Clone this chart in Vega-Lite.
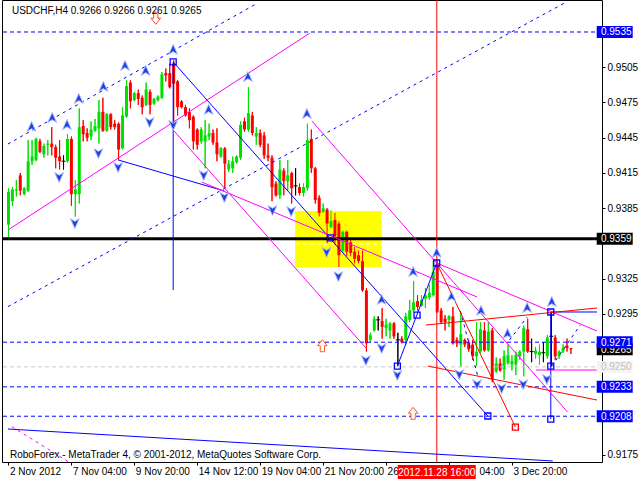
{
  "$schema": "https://vega.github.io/schema/vega-lite/v6.json",
  "width": 600,
  "height": 462,
  "autosize": {"type": "none"},
  "padding": {"left": 2, "top": 0, "right": 38, "bottom": 18},
  "background": "white",
  "config": {
    "view": {"stroke": "#000000", "strokeWidth": 1},
    "axis": {"labelFont": "Liberation Sans", "labelFontSize": 10, "labelColor": "#000000", "tickColor": "#000000", "domain": false, "grid": false, "titleOpacity": 0, "titleFontSize": 1}
  },
  "datasets": {
    "candles": [
      {"i":0,"o":0.9371,"h":0.9402,"l":0.9360,"c":0.9399},
      {"i":1,"o":0.9391,"h":0.9403,"l":0.9387,"c":0.9401},
      {"i":2,"o":0.9400,"h":0.9409,"l":0.9395,"c":0.9401},
      {"i":3,"o":0.9413,"h":0.9415,"l":0.9396,"c":0.9400},
      {"i":4,"o":0.9397,"h":0.9403,"l":0.9396,"c":0.9402},
      {"i":5,"o":0.9400,"h":0.9443,"l":0.9399,"c":0.9425},
      {"i":6,"o":0.9425,"h":0.9443,"l":0.9422,"c":0.9429},
      {"i":7,"o":0.9426,"h":0.9445,"l":0.9425,"c":0.9444},
      {"i":8,"o":0.9442,"h":0.9444,"l":0.9432,"c":0.9433},
      {"i":9,"o":0.9431,"h":0.9440,"l":0.9428,"c":0.9438},
      {"i":10,"o":0.9439,"h":0.9443,"l":0.9430,"c":0.9440},
      {"i":11,"o":0.9440,"h":0.9454,"l":0.9430,"c":0.9437},
      {"i":12,"o":0.9437,"h":0.9439,"l":0.9419,"c":0.9428},
      {"i":13,"o":0.9429,"h":0.9443,"l":0.9418,"c":0.9425},
      {"i":14,"o":0.9425,"h":0.9430,"l":0.9418,"c":0.9425},
      {"i":15,"o":0.9425,"h":0.9448,"l":0.9424,"c":0.9444},
      {"i":16,"o":0.9444,"h":0.9446,"l":0.9387,"c":0.9397},
      {"i":17,"o":0.9397,"h":0.9409,"l":0.9378,"c":0.9401},
      {"i":18,"o":0.9397,"h":0.9470,"l":0.9389,"c":0.9454},
      {"i":19,"o":0.9455,"h":0.9460,"l":0.9442,"c":0.9448},
      {"i":20,"o":0.9449,"h":0.9453,"l":0.9442,"c":0.9445},
      {"i":21,"o":0.9446,"h":0.9459,"l":0.9443,"c":0.9452},
      {"i":22,"o":0.9451,"h":0.9461,"l":0.9450,"c":0.9455},
      {"i":23,"o":0.9453,"h":0.9477,"l":0.9440,"c":0.9467},
      {"i":24,"o":0.9467,"h":0.9479,"l":0.9450,"c":0.9451},
      {"i":25,"o":0.9451,"h":0.9466,"l":0.9450,"c":0.9465},
      {"i":26,"o":0.9465,"h":0.9466,"l":0.9452,"c":0.9454},
      {"i":27,"o":0.9457,"h":0.9460,"l":0.9452,"c":0.9454},
      {"i":28,"o":0.9457,"h":0.9458,"l":0.9426,"c":0.9435},
      {"i":29,"o":0.9436,"h":0.9471,"l":0.9435,"c":0.9464},
      {"i":30,"o":0.9463,"h":0.9494,"l":0.9462,"c":0.9489},
      {"i":31,"o":0.9492,"h":0.9494,"l":0.9470,"c":0.9476},
      {"i":32,"o":0.9477,"h":0.9484,"l":0.9476,"c":0.9483},
      {"i":33,"o":0.9483,"h":0.9486,"l":0.9473,"c":0.9478},
      {"i":34,"o":0.9479,"h":0.9481,"l":0.9465,"c":0.9471},
      {"i":35,"o":0.9473,"h":0.9492,"l":0.9472,"c":0.9486},
      {"i":36,"o":0.9484,"h":0.9486,"l":0.9465,"c":0.9473},
      {"i":37,"o":0.9474,"h":0.9479,"l":0.9473,"c":0.9478},
      {"i":38,"o":0.9477,"h":0.9481,"l":0.9476,"c":0.9480},
      {"i":39,"o":0.9479,"h":0.9501,"l":0.9478,"c":0.9499},
      {"i":40,"o":0.9500,"h":0.9504,"l":0.9493,"c":0.9498},
      {"i":41,"o":0.9500,"h":0.9508,"l":0.9487,"c":0.9488},
      {"i":42,"o":0.9508,"h":0.9511,"l":0.9457,"c":0.9491},
      {"i":43,"o":0.9493,"h":0.9494,"l":0.9464,"c":0.9471},
      {"i":44,"o":0.9476,"h":0.9477,"l":0.9470,"c":0.9471},
      {"i":45,"o":0.9471,"h":0.9473,"l":0.9463,"c":0.9464},
      {"i":46,"o":0.9467,"h":0.9470,"l":0.9453,"c":0.9460},
      {"i":47,"o":0.9463,"h":0.9464,"l":0.9435,"c":0.9442},
      {"i":48,"o":0.9452,"h":0.9453,"l":0.9435,"c":0.9439},
      {"i":49,"o":0.9442,"h":0.9454,"l":0.9440,"c":0.9452},
      {"i":50,"o":0.9442,"h":0.9460,"l":0.9419,"c":0.9447},
      {"i":51,"o":0.9446,"h":0.9457,"l":0.9443,"c":0.9449},
      {"i":52,"o":0.9449,"h":0.9452,"l":0.9439,"c":0.9441},
      {"i":53,"o":0.9441,"h":0.9453,"l":0.9425,"c":0.9431},
      {"i":54,"o":0.9429,"h":0.9437,"l":0.9428,"c":0.9436},
      {"i":55,"o":0.9436,"h":0.9437,"l":0.9402,"c":0.9423},
      {"i":56,"o":0.9418,"h":0.9426,"l":0.9416,"c":0.9423},
      {"i":57,"o":0.9419,"h":0.9429,"l":0.9415,"c":0.9425},
      {"i":58,"o":0.9424,"h":0.9430,"l":0.9423,"c":0.9429},
      {"i":59,"o":0.9428,"h":0.9459,"l":0.9426,"c":0.9456},
      {"i":60,"o":0.9459,"h":0.9462,"l":0.9450,"c":0.9452},
      {"i":61,"o":0.9452,"h":0.9488,"l":0.9450,"c":0.9466},
      {"i":62,"o":0.9464,"h":0.9467,"l":0.9447,"c":0.9449},
      {"i":63,"o":0.9446,"h":0.9454,"l":0.9439,"c":0.9449},
      {"i":64,"o":0.9449,"h":0.9452,"l":0.9437,"c":0.9439},
      {"i":65,"o":0.9447,"h":0.9450,"l":0.9427,"c":0.9430},
      {"i":66,"o":0.9430,"h":0.9440,"l":0.9425,"c":0.9428},
      {"i":67,"o":0.9428,"h":0.9430,"l":0.9391,"c":0.9403},
      {"i":68,"o":0.9406,"h":0.9408,"l":0.9395,"c":0.9396},
      {"i":69,"o":0.9396,"h":0.9426,"l":0.9393,"c":0.9418},
      {"i":70,"o":0.9417,"h":0.9419,"l":0.9396,"c":0.9408},
      {"i":71,"o":0.9408,"h":0.9426,"l":0.9400,"c":0.9413},
      {"i":72,"o":0.9415,"h":0.9416,"l":0.9389,"c":0.9402},
      {"i":73,"o":0.9404,"h":0.9419,"l":0.9396,"c":0.9404},
      {"i":74,"o":0.9403,"h":0.9406,"l":0.9396,"c":0.9398},
      {"i":75,"o":0.9398,"h":0.9406,"l":0.9395,"c":0.9403},
      {"i":76,"o":0.9402,"h":0.9457,"l":0.9400,"c":0.9443},
      {"i":77,"o":0.9444,"h":0.9452,"l":0.9415,"c":0.9419},
      {"i":78,"o":0.9419,"h":0.9420,"l":0.9389,"c":0.9392},
      {"i":79,"o":0.9394,"h":0.9396,"l":0.9378,"c":0.9381},
      {"i":80,"o":0.9382,"h":0.9389,"l":0.9381,"c":0.9385},
      {"i":81,"o":0.9384,"h":0.9385,"l":0.9355,"c":0.9372},
      {"i":82,"o":0.9369,"h":0.9383,"l":0.9368,"c":0.9374},
      {"i":83,"o":0.9375,"h":0.9381,"l":0.9354,"c":0.9361},
      {"i":84,"o":0.9372,"h":0.9374,"l":0.9335,"c":0.9345},
      {"i":85,"o":0.9349,"h":0.9366,"l":0.9347,"c":0.9365},
      {"i":86,"o":0.9365,"h":0.9366,"l":0.9344,"c":0.9348},
      {"i":87,"o":0.9356,"h":0.9358,"l":0.9344,"c":0.9347},
      {"i":88,"o":0.9348,"h":0.9352,"l":0.9338,"c":0.9342},
      {"i":89,"o":0.9345,"h":0.9349,"l":0.9338,"c":0.9340},
      {"i":90,"o":0.9340,"h":0.9349,"l":0.9314,"c":0.9315},
      {"i":91,"o":0.9315,"h":0.9317,"l":0.9263,"c":0.9270},
      {"i":92,"o":0.9273,"h":0.9279,"l":0.9271,"c":0.9277},
      {"i":93,"o":0.9281,"h":0.9293,"l":0.9280,"c":0.9291},
      {"i":94,"o":0.9290,"h":0.9293,"l":0.9281,"c":0.9290},
      {"i":95,"o":0.9289,"h":0.9300,"l":0.9274,"c":0.9284},
      {"i":96,"o":0.9283,"h":0.9291,"l":0.9276,"c":0.9286},
      {"i":97,"o":0.9281,"h":0.9288,"l":0.9274,"c":0.9287},
      {"i":98,"o":0.9287,"h":0.9288,"l":0.9274,"c":0.9276},
      {"i":99,"o":0.9273,"h":0.9279,"l":0.9251,"c":0.9273},
      {"i":100,"o":0.9274,"h":0.9276,"l":0.9270,"c":0.9271},
      {"i":101,"o":0.9273,"h":0.9296,"l":0.9269,"c":0.9293},
      {"i":102,"o":0.9290,"h":0.9307,"l":0.9288,"c":0.9298},
      {"i":103,"o":0.9298,"h":0.9323,"l":0.9297,"c":0.9305},
      {"i":104,"o":0.9306,"h":0.9311,"l":0.9298,"c":0.9301},
      {"i":105,"o":0.9302,"h":0.9311,"l":0.9301,"c":0.9307},
      {"i":106,"o":0.9308,"h":0.9317,"l":0.9300,"c":0.9311},
      {"i":107,"o":0.9309,"h":0.9320,"l":0.9307,"c":0.9313},
      {"i":108,"o":0.9311,"h":0.9340,"l":0.9310,"c":0.9331},
      {"i":109,"o":0.9337,"h":0.9340,"l":0.9296,"c":0.9297},
      {"i":110,"o":0.9298,"h":0.9300,"l":0.9287,"c":0.9288},
      {"i":111,"o":0.9291,"h":0.9294,"l":0.9281,"c":0.9288},
      {"i":112,"o":0.9290,"h":0.9294,"l":0.9284,"c":0.9293},
      {"i":113,"o":0.9293,"h":0.9301,"l":0.9269,"c":0.9270},
      {"i":114,"o":0.9273,"h":0.9275,"l":0.9267,"c":0.9270},
      {"i":115,"o":0.9269,"h":0.9296,"l":0.9250,"c":0.9278},
      {"i":116,"o":0.9273,"h":0.9274,"l":0.9267,"c":0.9269},
      {"i":117,"o":0.9271,"h":0.9273,"l":0.9263,"c":0.9265},
      {"i":118,"o":0.9269,"h":0.9273,"l":0.9256,"c":0.9259},
      {"i":119,"o":0.9259,"h":0.9288,"l":0.9251,"c":0.9263},
      {"i":120,"o":0.9263,"h":0.9288,"l":0.9262,"c":0.9282},
      {"i":121,"o":0.9281,"h":0.9288,"l":0.9263,"c":0.9264},
      {"i":122,"o":0.9264,"h":0.9288,"l":0.9263,"c":0.9280},
      {"i":123,"o":0.9281,"h":0.9283,"l":0.9237,"c":0.9239},
      {"i":124,"o":0.9246,"h":0.9258,"l":0.9245,"c":0.9253},
      {"i":125,"o":0.9253,"h":0.9257,"l":0.9246,"c":0.9247},
      {"i":126,"o":0.9248,"h":0.9264,"l":0.9239,"c":0.9259},
      {"i":127,"o":0.9253,"h":0.9269,"l":0.9252,"c":0.9260},
      {"i":128,"o":0.9252,"h":0.9260,"l":0.9247,"c":0.9255},
      {"i":129,"o":0.9252,"h":0.9263,"l":0.9243,"c":0.9260},
      {"i":130,"o":0.9259,"h":0.9264,"l":0.9256,"c":0.9263},
      {"i":131,"o":0.9263,"h":0.9285,"l":0.9242,"c":0.9283},
      {"i":132,"o":0.9282,"h":0.9291,"l":0.9262,"c":0.9263},
      {"i":133,"o":0.9263,"h":0.9274,"l":0.9254,"c":0.9263},
      {"i":134,"o":0.9261,"h":0.9267,"l":0.9257,"c":0.9264},
      {"i":135,"o":0.9260,"h":0.9269,"l":0.9252,"c":0.9263},
      {"i":136,"o":0.9262,"h":0.9271,"l":0.9254,"c":0.9262},
      {"i":137,"o":0.9259,"h":0.9277,"l":0.9257,"c":0.9275},
      {"i":138,"o":0.9276,"h":0.9296,"l":0.9250,"c":0.9276},
      {"i":139,"o":0.9275,"h":0.9277,"l":0.9256,"c":0.9259},
      {"i":140,"o":0.9259,"h":0.9264,"l":0.9257,"c":0.9263},
      {"i":141,"o":0.9263,"h":0.9269,"l":0.9262,"c":0.9266},
      {"i":142,"o":0.9268,"h":0.9274,"l":0.9263,"c":0.9266},
      {"i":143,"o":0.9266,"h":0.9266,"l":0.9261,"c":0.9265}
    ],
    "lines": [
      {"id":"L1","k":"bd","i":-0.125,"p":0.94397},{"id":"L1","k":"bd","i":63.375,"p":0.95597},
      {"id":"L2","k":"bd","i":-0.125,"p":0.93013},{"id":"L2","k":"bd","i":141.375,"p":0.95597},
      {"id":"D1","k":"bd","i":114.875,"p":0.92976},{"id":"D1","k":"bd","i":119.375,"p":0.92414},
      {"id":"D2","k":"bd","i":127.375,"p":0.92729},{"id":"D2","k":"bd","i":131.875,"p":0.92924},
      {"id":"D3","k":"bd","i":138.125,"p":0.92507},{"id":"D3","k":"bd","i":145.375,"p":0.92856},
      {"id":"L3","k":"m","i":-0.125,"p":0.93665},{"id":"L3","k":"m","i":76.625,"p":0.95341},
      {"id":"L6","k":"m","i":41.875,"p":0.94516},{"id":"L6","k":"m","i":90.875,"p":0.92661},
      {"id":"L7","k":"m","i":49.125,"p":0.94073},{"id":"L7","k":"m","i":119.125,"p":0.93095},
      {"id":"L8","k":"m","i":77.125,"p":0.94593},{"id":"L8","k":"m","i":142.125,"p":0.92116},
      {"id":"L9","k":"m","i":108.875,"p":0.93384},{"id":"L9","k":"m","i":149.625,"p":0.92805},
      {"id":"L10","k":"m","i":134.125,"p":0.92473},{"id":"L10","k":"m","i":149.625,"p":0.92473},
      {"id":"L11","k":"md","i":0.875,"p":0.91991},{"id":"L11","k":"md","i":15.375,"p":0.91690},
      {"id":"R1","k":"r","i":108.875,"p":0.93384},{"id":"R1","k":"r","i":128.875,"p":0.91988},
      {"id":"R2","k":"r","i":106.125,"p":0.92856},{"id":"R2","k":"r","i":149.625,"p":0.93001},
      {"id":"R3","k":"r","i":106.625,"p":0.92507},{"id":"R3","k":"r","i":149.625,"p":0.92218},
      {"id":"L4","k":"b","i":41.875,"p":0.95095},{"id":"L4","k":"b","i":121.875,"p":0.92082},
      {"id":"L5","k":"b","i":27.875,"p":0.94261},{"id":"L5","k":"b","i":54.875,"p":0.93997},
      {"id":"B1","k":"b","i":98.875,"p":0.92507},{"id":"B1","k":"b","i":108.875,"p":0.93384},
      {"id":"B5","k":"b","i":137.875,"p":0.92967},{"id":"B5","k":"b","i":149.625,"p":0.92967},
      {"id":"B6","k":"b","i":137.875,"p":0.92967},{"id":"B6","k":"b","i":137.875,"p":0.92056},
      {"id":"B7","k":"b","i":-0.125,"p":0.91971},{"id":"B7","k":"b","i":138.375,"p":0.91699},
      {"id":"B8","k":"b","i":41.875,"p":0.95095},{"id":"B8","k":"b","i":41.875,"p":0.93154},
      {"id":"W1","k":"wd","i":73.125,"p":0.93546},{"id":"W1","k":"wd","i":94.875,"p":0.93546}
    ],
    "hlines": [
      {"p":0.9535,"k":"bd"},{"p":0.9271,"k":"bd"},{"p":0.9233,"k":"bd"},{"p":0.9208,"k":"bd"},
      {"p":0.9250,"k":"gd"},{"p":0.9359,"k":"k"}
    ],
    "squares": [
      {"i":41.875,"p":0.95095,"k":"b"},{"i":81.875,"p":0.93597,"k":"b"},{"i":98.875,"p":0.92507,"k":"b"},
      {"i":103.875,"p":0.92941,"k":"b"},{"i":108.875,"p":0.93384,"k":"b"},{"i":121.875,"p":0.92082,"k":"b"},
      {"i":137.875,"p":0.92967,"k":"b"},{"i":137.875,"p":0.92507,"k":"b"},{"i":137.875,"p":0.92056,"k":"b"},
      {"i":128.875,"p":0.91988,"k":"r"}
    ],
    "arrows": [
      {"i":5.875,"p":0.94541,"d":"up"},{"i":11.125,"p":0.94618,"d":"up"},{"i":14.875,"p":0.94558,"d":"up"},
      {"i":17.875,"p":0.94780,"d":"up"},{"i":24.125,"p":0.94882,"d":"up"},{"i":29.625,"p":0.95061,"d":"up"},
      {"i":34.875,"p":0.95018,"d":"up"},{"i":41.875,"p":0.95197,"d":"up"},{"i":50.875,"p":0.94686,"d":"up"},
      {"i":60.875,"p":0.94967,"d":"up"},{"i":75.875,"p":0.94652,"d":"up"},{"i":94.875,"p":0.93069,"d":"up"},
      {"i":102.875,"p":0.93307,"d":"up"},{"i":108.875,"p":0.93469,"d":"up"},{"i":112.625,"p":0.93095,"d":"up"},
      {"i":120.125,"p":0.92976,"d":"up"},{"i":126.875,"p":0.92780,"d":"up"},{"i":131.875,"p":0.93001,"d":"up"},
      {"i":138.125,"p":0.93052,"d":"up"},
      {"i":12.875,"p":0.94116,"d":"down"},{"i":16.875,"p":0.93724,"d":"down"},{"i":22.875,"p":0.94320,"d":"down"},
      {"i":27.875,"p":0.94201,"d":"down"},{"i":35.875,"p":0.94584,"d":"down"},{"i":41.875,"p":0.94559,"d":"down"},
      {"i":49.625,"p":0.94133,"d":"down"},{"i":54.875,"p":0.93946,"d":"down"},{"i":67.125,"p":0.93835,"d":"down"},
      {"i":71.875,"p":0.93826,"d":"down"},{"i":80.875,"p":0.93478,"d":"down"},{"i":83.875,"p":0.93273,"d":"down"},
      {"i":90.875,"p":0.92558,"d":"down"},{"i":94.875,"p":0.92661,"d":"down"},{"i":98.875,"p":0.92431,"d":"down"},
      {"i":114.625,"p":0.92439,"d":"down"},{"i":119.125,"p":0.92354,"d":"down"},{"i":125.375,"p":0.92320,"d":"down"},
      {"i":130.875,"p":0.92354,"d":"down"},{"i":136.875,"p":0.92397,"d":"down"}
    ],
    "hollow": [
      {"i":37.45,"p":0.95467,"d":"down"},{"i":79.8,"p":0.92680,"d":"up"},{"i":102.875,"p":0.92105,"d":"up"}
    ],
    "tags": [
      {"p":0.9535,"t":"0.9535","k":"blue"},{"p":0.9359,"t":"0.9359","k":"black"},
      {"p":0.9265,"t":"0.9265","k":"black"},{"p":0.9271,"t":"0.9271","k":"blue"},
      {"p":0.9250,"t":"0.9250","k":"gray"},{"p":0.9233,"t":"0.9233","k":"blue"},
      {"p":0.9208,"t":"0.9208","k":"blue"}
    ]
  },
  "layer": [
    {
      "data": {"name":"candles"},
      "mark": {"type":"rule","strokeWidth":1},
      "encoding": {
        "x": {"field":"i","type":"quantitative","title":null,"scale":{"domain":[-0.375,149.625],"nice":false,"zero":false},
              "axis":{"orient":"bottom","title":null,"values":[0,16,32,48,64,80,96,112,128],"tickCount":20,"labelAlign":"left",
                "labelOffset":{"condition":{"test":"datum.value==112","value":30},"value":1},
                "tickSize":3,"labelPadding":1,"labelFlush":false,"labelOverlap":false,"labelBound":false,
                "labelExpr":"datum.value==0?'2 Nov 2012':datum.value==16?'7 Nov 04:00':datum.value==32?'9 Nov 20:00':datum.value==48?'14 Nov 12:00':datum.value==64?'19 Nov 04:00':datum.value==80?'21 Nov 20:00':datum.value==96?'26':datum.value==112?'04:00':'3 Dec 20:00'"}},
        "y": {"field":"l","type":"quantitative","title":null,"scale":{"domain":[0.916904,0.956223],"nice":false,"zero":false},
              "axis":{"orient":"right","title":null,"values":[0.9175,0.9295,0.9325,0.9385,0.9415,0.9445,0.9475,0.9505],"tickCount":30,"format":".4f","tickSize":3,"labelPadding":2,"labelBaseline":"middle","labelOverlap":false,"labelBound":false,"labelFlush":false}},
        "y2": {"field":"h"},
        "color": {"condition":[{"test":"datum.o==datum.c","value":"#000000"},{"test":"datum.c>datum.o","value":"#00e000"}],"value":"#ff0000"}
      }
    },
    {
      "data": {"values": [{"i1":72.875,"i2":94.875,"p1":0.93827,"p2":0.93350}]},
      "mark": {"type":"rect","color":"#ffff00"},
      "encoding": {
        "x": {"field":"i1","type":"quantitative"},
        "x2": {"field":"i2"},
        "y": {"field":"p1","type":"quantitative"},
        "y2": {"field":"p2"}
      }
    },
    {
      "data": {"name":"lines"},
      "transform": [{"filter":"datum.k=='wd'"}],
      "mark": {"type":"line","color":"#ffffff","strokeWidth":1,"strokeDash":[4,3]},
      "encoding": {
        "x": {"field":"i","type":"quantitative"},
        "y": {"field":"p","type":"quantitative"},
        "detail": {"field":"id"}
      }
    },
    {
      "data": {"name":"candles"},
      "mark": {"type":"rule","strokeWidth":1},
      "encoding": {
        "x": {"field":"i","type":"quantitative"},
        "y": {"field":"l","type":"quantitative"},
        "y2": {"field":"h"},
        "color": {"condition":[{"test":"datum.o==datum.c","value":"#000000"},{"test":"datum.c>datum.o","value":"#00e000"}],"value":"#ff0000"}
      }
    },
    {
      "data": {"name":"candles"},
      "transform": [{"filter":"datum.o!=datum.c"}],
      "mark": {"type":"bar","width":3},
      "encoding": {
        "x": {"field":"i","type":"quantitative"},
        "y": {"field":"o","type":"quantitative"},
        "y2": {"field":"c"},
        "color": {"condition":{"test":"datum.c>datum.o","value":"#00e000"},"value":"#ff0000"}
      }
    },
    {
      "data": {"name":"candles"},
      "transform": [{"filter":"datum.o==datum.c"}],
      "mark": {"type":"point","shape":"M-1,0L1,0","size":16,"filled":false,"stroke":"#000000","strokeWidth":1,"opacity":1},
      "encoding": {
        "x": {"field":"i","type":"quantitative"},
        "y": {"field":"o","type":"quantitative"}
      }
    },
    {
      "data": {"name":"hlines"},
      "transform": [{"filter":"datum.k=='bd'"}],
      "mark": {"type":"rule","color":"#0000ff","strokeWidth":1,"strokeDash":[4,3]},
      "encoding": {"y": {"field":"p","type":"quantitative"}}
    },
    {
      "data": {"name":"hlines"},
      "transform": [{"filter":"datum.k=='gd'"}],
      "mark": {"type":"rule","color":"#c8c8c8","strokeWidth":1,"strokeDash":[4,3]},
      "encoding": {"y": {"field":"p","type":"quantitative"}}
    },
    {
      "data": {"name":"hlines"},
      "transform": [{"filter":"datum.k=='k'"}],
      "mark": {"type":"rule","color":"#000000","strokeWidth":3},
      "encoding": {"y": {"field":"p","type":"quantitative"}}
    },
    {
      "data": {"values":[{"t":"2012.11.28 16:00"}]},
      "mark": {"type":"rule","color":"#ff0000","strokeWidth":1},
      "encoding": {"x": {"datum":108.9,"type":"quantitative"}}
    },
    {
      "data": {"name":"lines"},
      "transform": [{"filter":"datum.k=='bd'"}],
      "mark": {"type":"line","color":"#0000ff","strokeWidth":1,"strokeDash":[3,4],"clip":true},
      "encoding": {
        "x": {"field":"i","type":"quantitative"},
        "y": {"field":"p","type":"quantitative"},
        "detail": {"field":"id"}
      }
    },
    {
      "data": {"name":"lines"},
      "transform": [{"filter":"datum.k=='b'"}],
      "mark": {"type":"line","color":"#0000ff","strokeWidth":1,"clip":true},
      "encoding": {
        "x": {"field":"i","type":"quantitative"},
        "y": {"field":"p","type":"quantitative"},
        "detail": {"field":"id"}
      }
    },
    {
      "data": {"name":"lines"},
      "transform": [{"filter":"datum.k=='m'"}],
      "mark": {"type":"line","color":"#ff00ff","strokeWidth":1,"clip":true},
      "encoding": {
        "x": {"field":"i","type":"quantitative"},
        "y": {"field":"p","type":"quantitative"},
        "detail": {"field":"id"}
      }
    },
    {
      "data": {"name":"lines"},
      "transform": [{"filter":"datum.k=='md'"}],
      "mark": {"type":"line","color":"#ff00ff","strokeWidth":1,"strokeDash":[3,4],"clip":true},
      "encoding": {
        "x": {"field":"i","type":"quantitative"},
        "y": {"field":"p","type":"quantitative"},
        "detail": {"field":"id"}
      }
    },
    {
      "data": {"name":"lines"},
      "transform": [{"filter":"datum.k=='r'"}],
      "mark": {"type":"line","color":"#ff0000","strokeWidth":1,"clip":true},
      "encoding": {
        "x": {"field":"i","type":"quantitative"},
        "y": {"field":"p","type":"quantitative"},
        "detail": {"field":"id"}
      }
    },
    {
      "data": {"name":"arrows"},
      "transform": [{"filter":"datum.d=='up'"}],
      "mark": {"type":"point","shape":"M0,-1L0.8,0.8L0,0.3L-0.8,0.8Z","size":120,"filled":true,"fill":"#2040e0","stroke":"#a8b8ff","strokeWidth":1,"opacity":1},
      "encoding": {
        "x": {"field":"i","type":"quantitative"},
        "y": {"field":"p","type":"quantitative"}
      }
    },
    {
      "data": {"name":"arrows"},
      "transform": [{"filter":"datum.d=='down'"}],
      "mark": {"type":"point","shape":"M0,1L0.8,-0.8L0,-0.3L-0.8,-0.8Z","size":120,"filled":true,"fill":"#2040e0","stroke":"#a8b8ff","strokeWidth":1,"opacity":1},
      "encoding": {
        "x": {"field":"i","type":"quantitative"},
        "y": {"field":"p","type":"quantitative"}
      }
    },
    {
      "data": {"name":"hollow"},
      "transform": [{"filter":"datum.d=='up'"}],
      "mark": {"type":"point","shape":"M0,-1L0.8,0L0.35,0L0.35,1L-0.35,1L-0.35,0L-0.8,0Z","size":144,"filled":true,"fill":"#ffffff","stroke":"#ff5a1e","strokeWidth":1,"opacity":1},
      "encoding": {
        "x": {"field":"i","type":"quantitative"},
        "y": {"field":"p","type":"quantitative"}
      }
    },
    {
      "data": {"name":"hollow"},
      "transform": [{"filter":"datum.d=='down'"}],
      "mark": {"type":"point","shape":"M0,1L0.8,0L0.35,0L0.35,-1L-0.35,-1L-0.35,0L-0.8,0Z","size":144,"filled":true,"fill":"#ffffff","stroke":"#ff4a1e","strokeWidth":1,"opacity":1},
      "encoding": {
        "x": {"field":"i","type":"quantitative"},
        "y": {"field":"p","type":"quantitative"}
      }
    },
    {
      "data": {"name":"squares"},
      "transform": [{"filter":"datum.k=='b'"}],
      "mark": {"type":"point","shape":"square","size":36,"filled":false,"stroke":"#0000ff","strokeWidth":1.3,"opacity":1},
      "encoding": {
        "x": {"field":"i","type":"quantitative"},
        "y": {"field":"p","type":"quantitative"}
      }
    },
    {
      "data": {"name":"squares"},
      "transform": [{"filter":"datum.k=='r'"}],
      "mark": {"type":"point","shape":"square","size":36,"filled":false,"stroke":"#ff0000","strokeWidth":1.3,"opacity":1},
      "encoding": {
        "x": {"field":"i","type":"quantitative"},
        "y": {"field":"p","type":"quantitative"}
      }
    },
    {
      "data": {"name":"tags"},
      "transform": [{"filter":"datum.k=='black'"}],
      "layer": [
        {"mark": {"type":"point","shape":"M-1,-0.333L1,-0.333L1,0.333L-1,0.333Z","size":1296,"filled":true,"fill":"#000000","strokeWidth":0,"opacity":1,"clip":false},
         "encoding": {"x": {"datum":154.125,"type":"quantitative"},"y": {"field":"p","type":"quantitative"}}},
        {"mark": {"type":"text","align":"left","baseline":"middle","font":"Liberation Sans","fontSize":10,"color":"#ffffff","dy":0.5,"clip":false},
         "encoding": {"x": {"datum":150.625,"type":"quantitative"},"y": {"field":"p","type":"quantitative"},"text": {"field":"t"}}}
      ]
    },
    {
      "data": {"name":"tags"},
      "transform": [{"filter":"datum.k=='gray'"}],
      "layer": [
        {"mark": {"type":"point","shape":"M-1,-0.333L1,-0.333L1,0.333L-1,0.333Z","size":1296,"filled":true,"fill":"#f4f4f4","strokeWidth":0,"opacity":1,"clip":false},
         "encoding": {"x": {"datum":154.125,"type":"quantitative"},"y": {"field":"p","type":"quantitative"}}},
        {"mark": {"type":"text","align":"left","baseline":"middle","font":"Liberation Sans","fontSize":10,"color":"#c0c0c0","dy":0.5,"clip":false},
         "encoding": {"x": {"datum":150.625,"type":"quantitative"},"y": {"field":"p","type":"quantitative"},"text": {"field":"t"}}}
      ]
    },
    {
      "data": {"name":"tags"},
      "transform": [{"filter":"datum.k=='blue'"}],
      "layer": [
        {"mark": {"type":"point","shape":"M-1,-0.333L1,-0.333L1,0.333L-1,0.333Z","size":1296,"filled":true,"fill":"#0000ff","strokeWidth":0,"opacity":1,"clip":false},
         "encoding": {"x": {"datum":154.125,"type":"quantitative"},"y": {"field":"p","type":"quantitative"}}},
        {"mark": {"type":"text","align":"left","baseline":"middle","font":"Liberation Sans","fontSize":10,"color":"#ffffff","dy":0.5,"clip":false},
         "encoding": {"x": {"datum":150.625,"type":"quantitative"},"y": {"field":"p","type":"quantitative"},"text": {"field":"t"}}}
      ]
    },
    {
      "data": {"values":[{"t":"2012.11.28 16:00"}]},
      "layer": [
        {"mark": {"type":"point","shape":"M-1,-0.18L1,-0.18L1,0.18L-1,0.18Z","size":6084,"filled":true,"fill":"#ff0000","strokeWidth":0,"opacity":1,"clip":false},
         "encoding": {"x": {"datum":108.875,"type":"quantitative"},"y": {"datum":0.91605,"type":"quantitative"}}},
        {"mark": {"type":"text","align":"center","baseline":"middle","font":"Liberation Sans","fontSize":10,"color":"#ffffff","dy":0.5,"clip":false},
         "encoding": {"x": {"datum":108.875,"type":"quantitative"},"y": {"datum":0.91605,"type":"quantitative"},"text": {"field":"t"}}}
      ]
    },
    {
      "data": {"values":[{"t":"USDCHF,H4  0.9266 0.9266 0.9261 0.9265"}]},
      "mark": {"type":"text","align":"left","baseline":"alphabetic","font":"Liberation Sans","fontSize":10,"color":"#000000"},
      "encoding": {"x": {"datum":0.875,"type":"quantitative"},"y": {"datum":0.95499,"type":"quantitative"},"text": {"field":"t"}}
    },
    {
      "data": {"values":[{"t":"RoboForex - MetaTrader 4, © 2001-2012, MetaQuotes Software Corp."}]},
      "mark": {"type":"text","align":"left","baseline":"alphabetic","font":"Liberation Sans","fontSize":10,"color":"#000000"},
      "encoding": {"x": {"datum":0.375,"type":"quantitative"},"y": {"datum":0.91724,"type":"quantitative"},"text": {"field":"t"}}
    }
  ]
}
